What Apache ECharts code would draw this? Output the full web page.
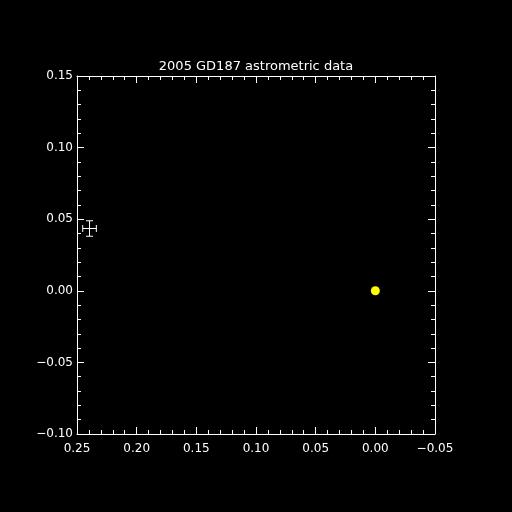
<!DOCTYPE html>
<html>
<head>
<meta charset="utf-8">
<script src="https://cdn.jsdelivr.net/npm/echarts@6/dist/echarts.min.js"></script>
<style>
html,body{margin:0;padding:0;background:#000;}
#c{width:512px;height:512px;}
</style>
</head>
<body>
<div id="c"></div>
<script>
const titleText = '2005 GD187 astrometric data';
const pointX = [0.0];
const pointY = [0.0];
const errCenterX = [0.2395];
const errCenterY = [0.0435];
const errHalfX = [0.0057];
const errHalfY = [0.0054];

const fmt = v => {
  if (Math.abs(v) < 1e-9) return '0.00';
  return (v < 0 ? '\u2212' : '') + Math.abs(v).toFixed(2);
};
const font = 'DejaVu Sans';
const common = {
  type: 'value',
  splitLine: {show: false},
  axisLine: {show: true, onZero: false, lineStyle: {color: '#fff', width: 1}},
  axisTick: {show: true, inside: true, length: 7, lineStyle: {color: '#fff', width: 1}},
  minorTick: {show: true, splitNumber: 5, length: 4, lineStyle: {color: '#fff', width: 1}},
  minorSplitLine: {show: false}
};
function xAx(pos, showLabel) {
  return Object.assign({}, common, {
    position: pos, inverse: true, min: -0.05, max: 0.25, interval: 0.05,
    axisLabel: {show: showLabel, color: '#fff', fontFamily: font, fontSize: 12, margin: 9, formatter: fmt}
  });
}
function yAx(pos, showLabel) {
  return Object.assign({}, common, {
    position: pos, min: -0.10, max: 0.15, interval: 0.05,
    axisLabel: {show: showLabel, color: '#fff', fontFamily: font, fontSize: 12, margin: 4, formatter: fmt}
  });
}
const errData = errCenterX.map((x, i) => [x, errCenterY[i], errHalfX[i], errHalfY[i]]);
const chart = echarts.init(document.getElementById('c'), null, {renderer: 'canvas'});
chart.setOption({
  backgroundColor: '#000',
  animation: false,
  title: {text: titleText, left: 'center', top: 55, textStyle: {color: '#fff', fontFamily: font, fontSize: 13, fontWeight: 'normal'}},
  grid: {left: 77, right: 77, top: 76, bottom: 78, containLabel: false},
  xAxis: [xAx('bottom', true), xAx('top', false)],
  yAxis: [yAx('left', true), yAx('right', false)],
  series: [
    {
      type: 'scatter', xAxisIndex: 0, yAxisIndex: 0,
      data: pointX.map((x, i) => [x, pointY[i]]),
      symbol: 'circle', symbolSize: 9,
      itemStyle: {color: '#ffff00', opacity: 1}
    },
    {
      type: 'custom', xAxisIndex: 0, yAxisIndex: 0,
      data: errData,
      renderItem: function (params, api) {
        const x = api.value(0), y = api.value(1), dx = api.value(2), dy = api.value(3);
        const c = api.coord([x, y]);
        const l = api.coord([x + dx, y]);
        const r = api.coord([x - dx, y]);
        const t = api.coord([x, y + dy]);
        const b = api.coord([x, y - dy]);
        const cap = 3.5;
        const st = {stroke: '#fff', lineWidth: 1};
        const line = (x1, y1, x2, y2) => ({type: 'line', shape: {x1, y1, x2, y2}, style: st});
        return {type: 'group', children: [
          line(l[0], c[1], r[0], c[1]),
          line(l[0], c[1] - cap, l[0], c[1] + cap),
          line(r[0], c[1] - cap, r[0], c[1] + cap),
          line(c[0], t[1], c[0], b[1]),
          line(c[0] - cap, t[1], c[0] + cap, t[1]),
          line(c[0] - cap, b[1], c[0] + cap, b[1])
        ]};
      }
    }
  ]
});
</script>
</body>
</html>
